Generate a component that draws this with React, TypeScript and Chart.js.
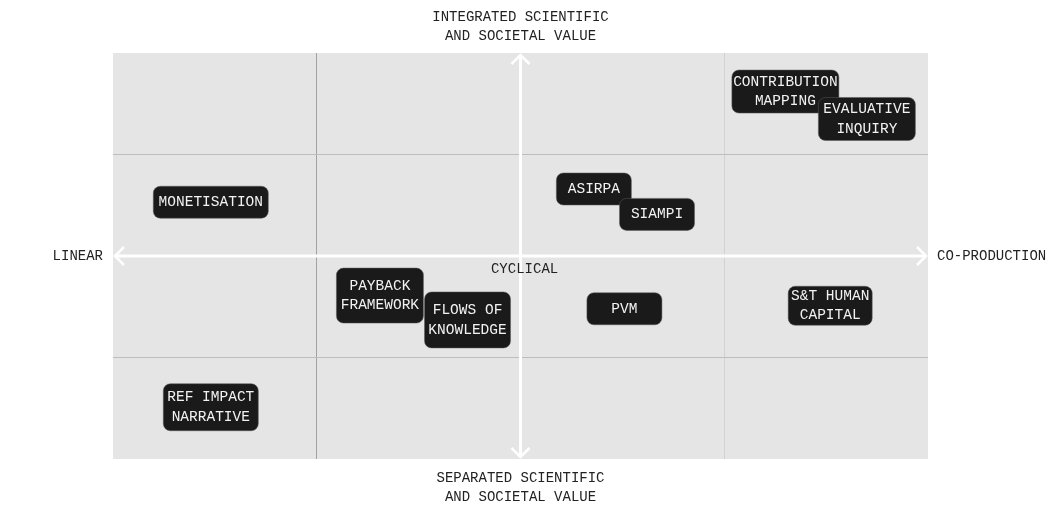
import React, { useEffect, useRef } from "react";
import { Chart, registerables } from "chart.js";

Chart.register(...registerables);

// ---- data ----
const methods = [
  "CONTRIBUTION\nMAPPING",
  "EVALUATIVE\nINQUIRY",
  "MONETISATION",
  "ASIRPA",
  "SIAMPI",
  "PAYBACK\nFRAMEWORK",
  "FLOWS OF\nKNOWLEDGE",
  "PVM",
  "S&T HUMAN\nCAPITAL",
  "REF IMPACT\nNARRATIVE",
];
const xValues = [1.3, 1.7, -1.52, 0.36, 0.67, -0.69, -0.26, 0.51, 1.52, -1.52];
const yValues = [1.62, 1.35, 0.53, 0.66, 0.41, -0.39, -0.63, -0.52, -0.49, -1.49];

const axisTop = ["INTEGRATED SCIENTIFIC", "AND SOCIETAL VALUE"];
const axisBottom = ["SEPARATED SCIENTIFIC", "AND SOCIETAL VALUE"];
const axisLeft = "LINEAR";
const axisRight = "CO-PRODUCTION";
const centerLabel = "CYCLICAL";
const centerLabelPos = { x: 0.02, y: -0.13 };
const axisMin = -2;
const axisMax = 2;

// ---- styles (box sizes per label) ----
const boxW = [107, 97, 115, 75, 75, 87, 86, 75, 84, 95];
const boxH = [43, 43, 32, 32, 32, 55, 56, 32, 39, 47];

const MONO = '"Liberation Mono", "DejaVu Sans Mono", monospace';

function roundRect(ctx: CanvasRenderingContext2D, x: number, y: number, w: number, h: number, r: number) {
  ctx.beginPath();
  ctx.moveTo(x + r, y);
  ctx.lineTo(x + w - r, y);
  ctx.arcTo(x + w, y, x + w, y + r, r);
  ctx.lineTo(x + w, y + h - r);
  ctx.arcTo(x + w, y + h, x + w - r, y + h, r);
  ctx.lineTo(x + r, y + h);
  ctx.arcTo(x, y + h, x, y + h - r, r);
  ctx.lineTo(x, y + r);
  ctx.arcTo(x, y, x + r, y, r);
  ctx.closePath();
}

const quadrantPlugin = {
  id: "quadrant",
  beforeDraw(chart: any) {
    const { ctx, chartArea: a } = chart;
    ctx.save();
    ctx.fillStyle = "#e5e5e5";
    ctx.fillRect(a.left, a.top, a.right - a.left, a.bottom - a.top);
    ctx.restore();
  },
  afterDatasetsDraw(chart: any) {
    const { ctx, chartArea: a, scales } = chart;
    const xs = scales.x;
    const ys = scales.y;
    const cx = xs.getPixelForValue(0);
    const cy = ys.getPixelForValue(0);
    ctx.save();
    // arrows
    ctx.strokeStyle = "#ffffff";
    ctx.lineWidth = 3;
    ctx.lineCap = "butt";
    const head = 9;
    const l = a.left + 2;
    const r = a.right - 2;
    const t = a.top + 2;
    const b = a.bottom - 2;
    ctx.beginPath();
    ctx.moveTo(l, cy);
    ctx.lineTo(r, cy);
    ctx.moveTo(cx, t);
    ctx.lineTo(cx, b);
    ctx.stroke();
    ctx.lineWidth = 2.5;
    ctx.lineJoin = "miter";
    ctx.beginPath();
    ctx.moveTo(l + head, cy - head);
    ctx.lineTo(l, cy);
    ctx.lineTo(l + head, cy + head);
    ctx.moveTo(r - head, cy - head);
    ctx.lineTo(r, cy);
    ctx.lineTo(r - head, cy + head);
    ctx.moveTo(cx - head, t + head);
    ctx.lineTo(cx, t);
    ctx.lineTo(cx + head, t + head);
    ctx.moveTo(cx - head, b - head);
    ctx.lineTo(cx, b);
    ctx.lineTo(cx + head, b - head);
    ctx.stroke();

    // center label
    ctx.fillStyle = "#222222";
    ctx.font = `14px ${MONO}`;
    ctx.textAlign = "center";
    ctx.textBaseline = "middle";
    ctx.fillText(centerLabel, xs.getPixelForValue(centerLabelPos.x), ys.getPixelForValue(centerLabelPos.y));

    // boxes
    const lineH = 19.5;
    const meta = chart.getDatasetMeta(0);
    meta.data.forEach((pt: any, i: number) => {
      const px = pt.x;
      const py = pt.y;
      const w = boxW[i];
      const h = boxH[i];
      ctx.fillStyle = "#1a1a1a";
      roundRect(ctx, px - w / 2, py - h / 2, w, h, 7);
      ctx.fill();
      ctx.strokeStyle = "rgba(90,90,90,0.5)";
      ctx.lineWidth = 1;
      ctx.stroke();
      const lines = methods[i].split("\n");
      ctx.fillStyle = "#f2f2f2";
      ctx.font = `14.5px ${MONO}`;
      ctx.textAlign = "center";
      ctx.textBaseline = "middle";
      lines.forEach((ln, k) => {
        const oy = (k - (lines.length - 1) / 2) * lineH;
        ctx.fillText(ln, px, py + oy);
      });
    });
    ctx.restore();
  },
  afterDraw(chart: any) {
    const { ctx, chartArea: a, scales } = chart;
    const cx = scales.x.getPixelForValue(0);
    const cy = scales.y.getPixelForValue(0);
    ctx.save();
    ctx.fillStyle = "#222222";
    ctx.font = `14px ${MONO}`;
    ctx.textBaseline = "middle";
    ctx.textAlign = "center";
    axisTop.forEach((ln, k) => ctx.fillText(ln, cx, a.top - 36 + k * 19));
    axisBottom.forEach((ln, k) => ctx.fillText(ln, cx, a.bottom + 19 + k * 19));
    ctx.textAlign = "right";
    ctx.fillText(axisLeft, a.left - 10, cy);
    ctx.textAlign = "left";
    ctx.fillText(axisRight, a.right + 9, cy);
    ctx.restore();
  },
};

export default function App() {
  const ref = useRef<HTMLCanvasElement | null>(null);
  useEffect(() => {
    if (!ref.current) return;
    const gridColor = (axis: string) => (c: any) => {
      const v = c.tick ? c.tick.value : 0;
      if (v === axisMin || v === axisMax || v === 0) return "rgba(0,0,0,0)";
      if (axis === "x") return v < 0 ? "#a2a2a2" : "#d2d2d2";
      return "#bdbdbd";
    };
    const chart = new Chart(ref.current, {
      type: "scatter",
      data: {
        datasets: [
          {
            data: methods.map((_, i) => ({ x: xValues[i], y: yValues[i] })),
            pointRadius: 0,
            pointHoverRadius: 0,
          },
        ],
      },
      options: {
        animation: false,
        responsive: true,
        maintainAspectRatio: false,
        layout: { padding: { left: 113, top: 53, right: 123, bottom: 52 } },
        plugins: { legend: { display: false }, tooltip: { enabled: false } },
        events: [],
        scales: {
          x: {
            type: "linear",
            min: axisMin,
            max: axisMax,
            ticks: { display: false, stepSize: 1 },
            border: { display: false },
            grid: { color: gridColor("x"), lineWidth: 1, drawTicks: false },
            afterFit: (s: any) => {
              s.height = 0;
            },
          },
          y: {
            type: "linear",
            min: axisMin,
            max: axisMax,
            ticks: { display: false, stepSize: 1 },
            border: { display: false },
            grid: { color: gridColor("y"), lineWidth: 1, drawTicks: false },
            afterFit: (s: any) => {
              s.width = 0;
            },
          },
        },
      },
      plugins: [quadrantPlugin],
    } as any);
    return () => chart.destroy();
  }, []);
  return (
    <div style={{ position: "fixed", left: 0, top: 0, width: 1051, height: 511, background: "#ffffff" }}>
      <canvas ref={ref} />
    </div>
  );
}
